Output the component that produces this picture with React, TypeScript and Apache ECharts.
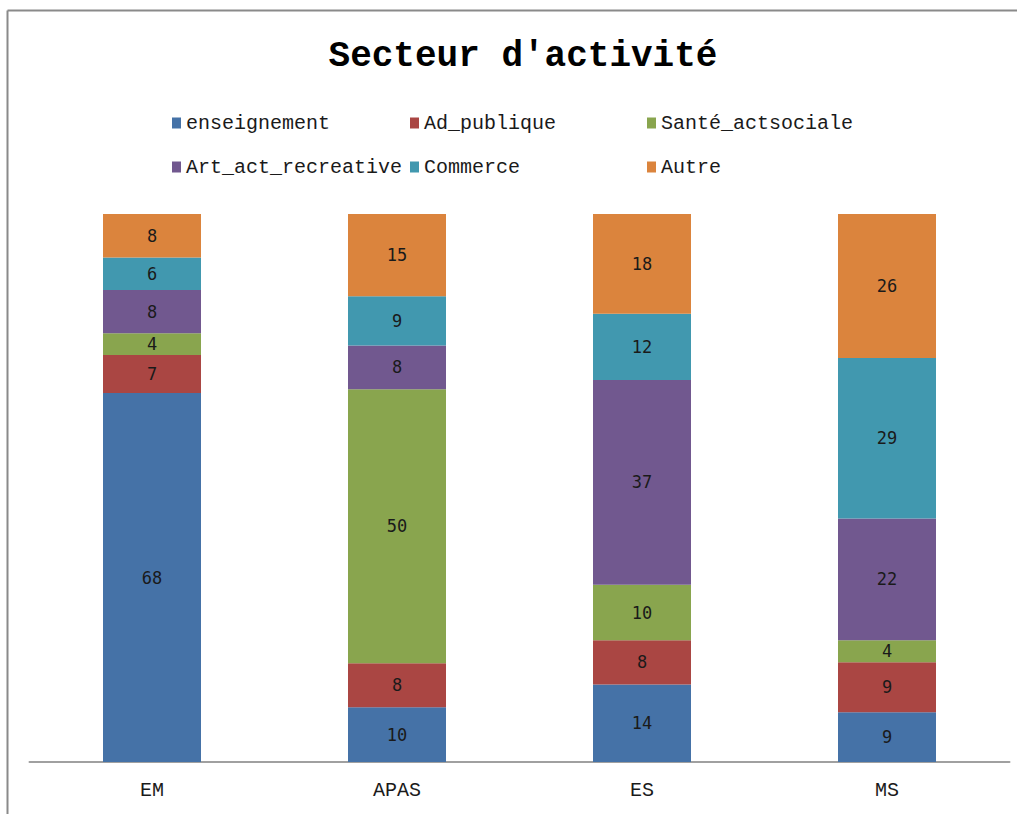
import React, { useEffect, useRef } from "react";
import * as echarts from "echarts";

const categories = ["EM", "APAS", "ES", "MS"];
const seriesNames = ["enseignement", "Ad_publique", "Santé_actsociale", "Art_act_recreative", "Commerce", "Autre"];
const enseignement = [68, 10, 14, 9];
const adPublique = [7, 8, 8, 9];
const santeActsociale = [4, 50, 10, 4];
const artActRecreative = [8, 8, 37, 22];
const commerce = [6, 9, 12, 29];
const autre = [8, 15, 18, 26];
const colors = ["#4572A7", "#AA4643", "#89A54E", "#71588F", "#4198AF", "#DB843D"];

const counts = [enseignement, adPublique, santeActsociale, artActRecreative, commerce, autre];

export default function App() {
  const ref = useRef<HTMLDivElement>(null);
  useEffect(() => {
    if (!ref.current) return;
    const chart = echarts.init(ref.current, null, { renderer: "svg" });
    const totals = categories.map((_, i) => counts.reduce((s, arr) => s + arr[i], 0));
    const legendPos = [
      [172, 113], [410, 113], [647, 113],
      [172, 157], [410, 157], [647, 157],
    ];
    chart.setOption({
      animation: false,
      backgroundColor: "#ffffff",
      title: {
        text: "Secteur d'activité",
        left: 518,
        top: 33,
        textAlign: "center",
        textStyle: { fontFamily: "Liberation Mono", fontWeight: "bold", fontSize: 36, color: "#000" },
      },
      legend: seriesNames.map((n, i) => ({
        data: [n],
        left: legendPos[i][0],
        top: legendPos[i][1],
        icon: "rect",
        itemWidth: 9,
        itemHeight: 11,
        padding: 0,
        textStyle: { fontFamily: "Liberation Mono", fontSize: 20, color: "#1a1a1a" },
      })),
      grid: { left: 29.5, right: 7.5, top: 214, bottom: 52 },
      xAxis: {
        type: "category",
        data: categories,
        axisLine: { lineStyle: { color: "#a0a0a0", width: 2 } },
        axisTick: { show: false },
        axisLabel: { fontFamily: "Liberation Mono", fontSize: 20, color: "#1a1a1a", margin: 18 },
      },
      yAxis: { type: "value", min: 0, max: 100, show: false, splitLine: { show: false } },
      series: seriesNames.map((n, si) => ({
        name: n,
        type: "bar",
        stack: "total",
        barWidth: "40%",
        itemStyle: { color: colors[si] },
        data: counts[si].map((v, ci) => (v / totals[ci]) * 100),
        label: {
          show: true,
          position: "inside",
          fontFamily: "DejaVu Sans Mono",
          fontSize: 17,
          color: "#1a1a1a",
          formatter: (p: any) => String(counts[si][p.dataIndex]),
        },
      })),
      graphic: [
        { type: "line", shape: { x1: 7.5, y1: 10.5, x2: 1017, y2: 10.5 }, style: { stroke: "#8a8a8a", lineWidth: 2 } },
        { type: "line", shape: { x1: 7.5, y1: 10.5, x2: 7.5, y2: 814 }, style: { stroke: "#8a8a8a", lineWidth: 2 } },
      ],
    });
    return () => chart.dispose();
  }, []);
  return <div ref={ref} style={{ position: "fixed", left: 0, top: 0, width: 1017, height: 814 }} />;
}
